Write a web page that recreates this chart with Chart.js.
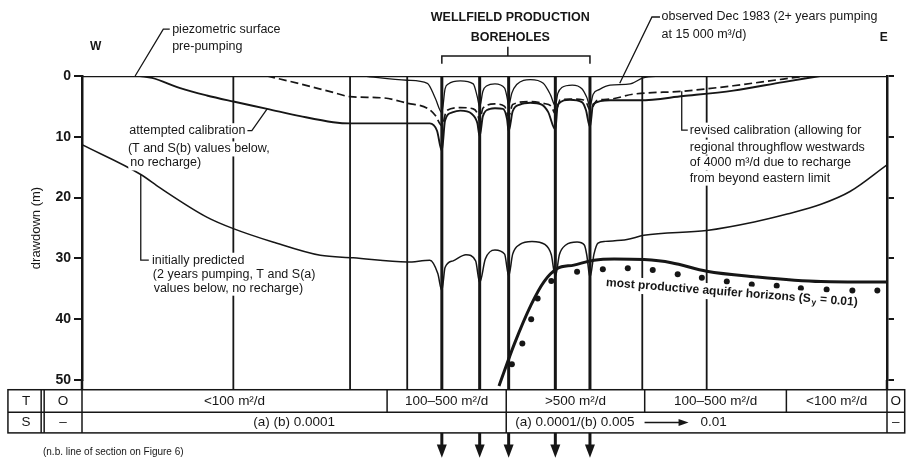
<!DOCTYPE html>
<html>
<head>
<meta charset="utf-8">
<title>Wellfield drawdown section W-E</title>
<script src="https://cdn.jsdelivr.net/npm/chart.js@4.4.1/dist/chart.umd.min.js"></script>
<style>
  html, body { margin: 0; padding: 0; background: #fff; }
  canvas { display: block; }
</style>
</head>
<body>
<canvas id="line-chart" width="914" height="462"></canvas>
<script>
// x = distance along the section, 0 (W) .. 100 (E), y = drawdown in m
var boreholes = [44.7, 49.4, 53.0, 58.8, 63.1];
var obsLines = [18.8, 33.3, 40.4, 69.6, 77.6];

var prePumping = [[0, 0], [100, 0]];

var observed = [[35.0,0],[40.4,0.7],[42.9,1.2],[43.9,3.7],[44.7,6.0],[45.1,2.1],[45.5,1.3],[47.0,0.8],[48.6,1.3],
  [49.1,3.4],[49.4,5.1],[49.8,2.5],[50.3,1.6],[51.3,1.3],[52.5,2.0],[52.8,3.5],[53.0,4.8],[53.4,2.8],[54.0,1.4],
  [55.7,0.6],[57.3,1.2],[58.2,3.1],[58.8,4.9],[59.1,2.9],[59.6,1.9],[60.9,1.5],[62.1,2.1],[62.7,3.5],[63.1,4.9],
  [63.5,3.0],[64.3,2.2],[65.6,1.5],[68.1,1.3],[69.7,0.3],[72.0,0]];

var revised = [[23.0,0],[27.1,1.3],[31.2,2.7],[33.3,3.4],[37.4,3.6],[40.5,4.5],[42.9,5.3],[43.9,6.5],[44.7,8.2],
  [45.3,5.7],[47.0,5.2],[48.6,5.4],[49.1,6.1],[49.4,7.4],[49.8,5.3],[51.3,4.6],[52.5,5.0],[53.0,6.6],[53.5,4.7],
  [55.7,4.2],[57.3,4.5],[58.3,5.0],[58.8,6.2],[59.4,3.9],[61.0,3.8],[62.2,3.9],[62.7,4.5],[63.1,5.6],[64.0,4.0],
  [65.6,3.8],[68.4,3.0],[74.7,2.5],[80.9,1.6],[87.1,0.5],[90.1,0]];

var attempted = [[7.2,0],[8.7,0.3],[12.2,2.0],[15.5,3.2],[18.8,4.2],[23.0,5.4],[27.1,6.6],[31.2,7.6],[33.3,7.8],
  [40.4,7.8],[43.2,7.8],[44.1,9.0],[44.7,12.3],[45.1,7.3],[46.0,6.0],[47.0,5.7],[48.4,6.2],[49.1,7.7],[49.4,9.9],
  [49.8,6.6],[50.7,5.4],[51.3,5.3],[52.3,5.4],[52.8,7.1],[53.0,9.1],[53.5,5.8],[54.4,4.7],[55.7,4.4],[57.1,4.7],
  [57.9,5.9],[58.8,8.8],[59.1,4.7],[60.6,3.9],[62.1,4.3],[62.6,5.6],[63.1,8.4],[63.5,4.6],[65.6,4.0],[69.3,4.0],
  [74.7,3.3],[80.9,2.4],[87.1,1.0],[91.7,0]];

var initial = [[0,11.3],[7.3,16.2],[9.7,18.4],[15.5,23.2],[18.8,25.1],[23.7,27.3],[29.6,29.5],[33.7,29.9],
  [40.4,30.6],[43.2,30.3],[44.2,32.5],[44.7,35.3],[45.1,31.5],[46.1,30.4],[47.7,29.4],[48.9,30.4],[49.4,34.0],
  [50.1,30.1],[51.3,28.6],[52.5,29.3],[53.0,32.9],[53.5,29.3],[54.4,27.7],[55.9,27.2],[57.5,27.7],[58.3,29.4],
  [58.8,33.0],[59.3,29.4],[60.1,27.8],[61.5,27.3],[62.4,27.8],[62.7,29.4],[63.1,33.1],[63.6,29.3],[64.1,27.5],
  [65.0,27.2],[67.7,26.9],[69.8,26.2],[77.6,25.4],[83.5,24.0],[87.6,22.7],[91.8,21.1],[95.4,19.0],[100,14.6]];

// top of most productive aquifer horizons
var productive = [[51.8,51.0],[53.7,44.1],[55.8,37.6],[57.4,33.8],[59.0,31.7],[61.1,31.1],[63.6,30.3],[66.1,30.1],
  [69.8,30.2],[73.2,30.7],[77.6,32.1],[83.5,33.0],[91.8,33.8],[100,33.9]];

var productiveDots = [[53.4,47.4],[54.7,44.0],[55.8,40.0],[56.6,36.6],[58.3,33.7],[61.5,32.2],[64.7,31.8],[67.8,31.6],
  [70.9,31.9],[74.0,32.6],[77.0,33.2],[80.1,33.8],[83.2,34.3],[86.3,34.5],[89.3,34.9],[92.5,35.1],[95.7,35.3],[98.8,35.3]];

// T / S table under the section
var tableTop = 51.6, tableMid = 55.3, tableBottom = 58.7;
var tEdges = [-9.2, -4.7, 0, 37.9, 52.7, 69.9, 87.5, 100, 102.2];
var tLabels = ['T', 'O', '<100 m²/d', '100–500 m²/d', '>500 m²/d', '100–500 m²/d', '<100 m²/d', 'O'];
var sEdges = [-9.2, -4.7, 0, 52.7, 100, 102.2];
var sLabels = ['S', '–', '(a) (b) 0.0001', '(a) 0.0001/(b) 0.005|0.01', '–'];

var ink = '#161616';
var fam = "'Liberation Sans', Arial, sans-serif";
var labelFont = '12.5px ' + fam;

function toXY(arr) {
  return arr.map(function (p) { return { x: p[0], y: p[1] }; });
}

function seg(ctx, x1, y1, x2, y2) {
  ctx.beginPath(); ctx.moveTo(x1, y1); ctx.lineTo(x2, y2); ctx.stroke();
}

function txt(ctx, s, x, y, align, clear) {
  ctx.textAlign = align || 'left';
  ctx.textBaseline = 'middle';
  if (clear) {
    var w = ctx.measureText(s).width;
    var x0 = align === 'center' ? x - w / 2 : (align === 'right' ? x - w : x);
    ctx.save(); ctx.fillStyle = '#fff'; ctx.fillRect(x0 - 2, y - 7.5, w + 4, 15); ctx.restore();
  }
  ctx.fillText(s, x, y);
}

var sectionPlugin = {
  id: 'section',
  afterDatasetsDraw: function (chart) {
    var ctx = chart.ctx, xs = chart.scales.x, ys = chart.scales.y;
    var X = function (v) { return xs.getPixelForValue(v); };
    var Y = function (v) { return ys.getPixelForValue(v); };
    ctx.save();
    ctx.strokeStyle = ink; ctx.fillStyle = ink;

    // observation lines and axis edges down to the table
    ctx.lineWidth = 1.8;
    obsLines.forEach(function (x) { seg(ctx, X(x), Y(0), X(x), Y(tableTop)); });
    ctx.lineWidth = 2.5;
    seg(ctx, X(0), Y(50), X(0), Y(tableTop));
    seg(ctx, X(100), Y(50), X(100), Y(tableTop));

    // production boreholes
    ctx.lineWidth = 3;
    boreholes.forEach(function (x) {
      seg(ctx, X(x), Y(0), X(x), Y(tableTop));
      seg(ctx, X(x), Y(tableBottom), X(x), Y(61));
      ctx.beginPath();
      ctx.moveTo(X(x) - 5, Y(60.6)); ctx.lineTo(X(x) + 5, Y(60.6)); ctx.lineTo(X(x), Y(62.8));
      ctx.closePath(); ctx.fill();
    });

    // bracket over the wellfield
    ctx.lineWidth = 1.5;
    var b0 = X(boreholes[0]), b1 = X(boreholes[boreholes.length - 1]), bm = X(52.9);
    ctx.beginPath();
    ctx.moveTo(b0, Y(-2.0)); ctx.lineTo(b0, Y(-3.3)); ctx.lineTo(b1, Y(-3.3)); ctx.lineTo(b1, Y(-2.0));
    ctx.stroke();
    seg(ctx, bm, Y(-3.3), bm, Y(-4.8));

    ctx.font = 'bold 12.5px ' + fam;
    txt(ctx, 'WELLFIELD PRODUCTION', X(53.2), Y(-9.6), 'center');
    txt(ctx, 'BOREHOLES', X(53.2), Y(-6.4), 'center');
    ctx.font = 'bold 12px ' + fam;
    txt(ctx, 'W', X(1.7), Y(-4.8), 'center');
    txt(ctx, 'E', X(99.6), Y(-6.25), 'center');

    // leaders
    ctx.lineWidth = 1.3;
    ctx.beginPath(); ctx.moveTo(X(6.6), Y(0)); ctx.lineTo(X(10.1), Y(-7.7)); ctx.lineTo(X(10.9), Y(-7.7)); ctx.stroke();
    ctx.beginPath(); ctx.moveTo(X(66.8), Y(1.2)); ctx.lineTo(X(70.8), Y(-9.7)); ctx.lineTo(X(71.8), Y(-9.7)); ctx.stroke();
    ctx.beginPath(); ctx.moveTo(X(23.0), Y(5.4)); ctx.lineTo(X(21.1), Y(9.0)); ctx.lineTo(X(20.5), Y(9.0)); ctx.stroke();
    ctx.beginPath(); ctx.moveTo(X(7.3), Y(16.2)); ctx.lineTo(X(7.3), Y(30.3)); ctx.lineTo(X(8.3), Y(30.3)); ctx.stroke();
    ctx.beginPath(); ctx.moveTo(X(74.5), Y(2.5)); ctx.lineTo(X(74.5), Y(8.9)); ctx.lineTo(X(75.3), Y(8.9)); ctx.stroke();

    // annotation texts
    ctx.font = labelFont;
    txt(ctx, 'piezometric surface', X(11.2), Y(-7.7));
    txt(ctx, 'pre-pumping', X(11.2), Y(-4.9));
    txt(ctx, 'observed Dec 1983 (2+ years pumping', X(72.0), Y(-9.7));
    txt(ctx, 'at 15 000 m³/d)', X(72.0), Y(-6.9));
    txt(ctx, 'attempted calibration', X(20.3), Y(9.0), 'right', true);
    txt(ctx, '(T and S(b) values below,', X(5.7), Y(12.0), 'left', true);
    txt(ctx, 'no recharge)', X(6.0), Y(14.3), 'left', true);
    txt(ctx, 'initially predicted', X(8.7), Y(30.3), 'left', true);
    txt(ctx, '(2 years pumping, T and S(a)', X(8.8), Y(32.6), 'left', true);
    txt(ctx, 'values below, no recharge)', X(8.9), Y(34.9), 'left', true);
    txt(ctx, 'revised calibration (allowing for', X(75.5), Y(8.9), 'left', true);
    txt(ctx, 'regional throughflow westwards', X(75.5), Y(11.7), 'left', true);
    txt(ctx, 'of 4000 m³/d due to recharge', X(75.5), Y(14.3), 'left', true);
    txt(ctx, 'from beyond eastern limit', X(75.5), Y(16.8), 'left', true);

    // tilted label for the aquifer horizons
    ctx.save();
    ctx.translate(X(65.1), Y(34.0));
    ctx.rotate(4.5 * Math.PI / 180);
    ctx.font = 'bold 12px ' + fam;
    var p1 = 'most productive aquifer horizons (S', p3 = ' = 0.01)';
    var w1 = ctx.measureText(p1).width, w3 = ctx.measureText(p3).width;
    ctx.fillStyle = '#fff'; ctx.fillRect(-2, -7.5, w1 + w3 + 12, 16); ctx.fillStyle = ink;
    txt(ctx, p1, 0, 0);
    ctx.font = 'bold 8.5px ' + fam;
    txt(ctx, 'y', w1 + 1, 3.5);
    ctx.font = 'bold 12px ' + fam;
    txt(ctx, p3, w1 + 6, 0);
    ctx.restore();

    ctx.font = '10px ' + fam;
    txt(ctx, '(n.b. line of section on Figure 6)', X(-4.85), Y(61.9));

    // table
    ctx.lineWidth = 1.5;
    var L = X(tEdges[0]), R = X(tEdges[tEdges.length - 1]);
    ctx.strokeRect(L, Y(tableTop), R - L, Y(tableBottom) - Y(tableTop));
    seg(ctx, L, Y(tableMid), R, Y(tableMid));
    seg(ctx, X(tEdges[1]) - 3, Y(tableTop), X(tEdges[1]) - 3, Y(tableBottom));
    ctx.font = '13.5px ' + fam;
    var ty = (Y(tableTop) + Y(tableMid)) / 2, sy = (Y(tableMid) + Y(tableBottom)) / 2;
    for (var i = 0; i < tLabels.length; i++) {
      if (i > 0) seg(ctx, X(tEdges[i]), Y(tableTop), X(tEdges[i]), Y(tableMid));
      txt(ctx, tLabels[i], (X(tEdges[i]) + X(tEdges[i + 1])) / 2, ty, 'center');
    }
    for (var j = 0; j < sLabels.length; j++) {
      if (j > 0) seg(ctx, X(sEdges[j]), Y(tableMid), X(sEdges[j]), Y(tableBottom));
      var s = sLabels[j];
      if (s.indexOf('|') > 0) {
        // "(a) 0.0001/(b) 0.005 --> 0.01"
        var parts = s.split('|');
        var sx = X(sEdges[j]) + 9;
        txt(ctx, parts[0], sx, sy);
        var ax = sx + ctx.measureText(parts[0]).width + 10;
        seg(ctx, ax, sy, ax + 36, sy);
        ctx.beginPath(); ctx.moveTo(ax + 44, sy); ctx.lineTo(ax + 34, sy - 3.5); ctx.lineTo(ax + 34, sy + 3.5);
        ctx.closePath(); ctx.fill();
        txt(ctx, parts[1], ax + 56, sy);
      } else {
        txt(ctx, s, (X(sEdges[j]) + X(sEdges[j + 1])) / 2, sy, 'center');
      }
    }
    ctx.restore();
  }
};

var lineBase = { pointRadius: 0, fill: false, borderColor: ink, cubicInterpolationMode: 'monotone' };

new Chart(document.getElementById('line-chart'), {
  type: 'line',
  data: {
    datasets: [
      Object.assign({ label: 'piezometric surface pre-pumping', data: toXY(prePumping), borderWidth: 2.5 }, lineBase),
      Object.assign({ label: 'observed Dec 1983', data: toXY(observed), borderWidth: 1.3 }, lineBase),
      Object.assign({ label: 'revised calibration', data: toXY(revised), borderWidth: 1.7, borderDash: [8, 4] }, lineBase),
      Object.assign({ label: 'attempted calibration', data: toXY(attempted), borderWidth: 1.9 }, lineBase),
      Object.assign({ label: 'initially predicted', data: toXY(initial), borderWidth: 1.5 }, lineBase),
      Object.assign({ label: 'most productive aquifer horizons', data: toXY(productive), borderWidth: 3, clip: false }, lineBase),
      { label: 'most productive aquifer horizons (Sy = 0.01)', data: toXY(productiveDots), showLine: false,
        pointRadius: 3, pointBackgroundColor: ink, pointBorderColor: ink, pointBorderWidth: 0 }
    ]
  },
  options: {
    responsive: false,
    animation: false,
    devicePixelRatio: 1,
    layout: { padding: { top: 76, bottom: 82, left: 0, right: 0 } },
    plugins: { legend: { display: false }, tooltip: { enabled: false } },
    scales: {
      x: { type: 'linear', min: 0, max: 100, display: false },
      y: {
        position: 'left', reverse: true, min: 0, max: 50,
        afterFit: function (s) { s.width = 82; },
        ticks: { stepSize: 10, color: ink, padding: 3, font: { family: fam, size: 14, weight: 'bold' } },
        grid: { drawOnChartArea: false, drawTicks: true, tickLength: 8, color: ink, lineWidth: 2 },
        border: { display: true, color: ink, width: 2.5 },
        title: { display: true, text: 'drawdown (m)', color: ink, padding: { top: 29, bottom: 0 },
                 font: { family: fam, size: 13 } }
      },
      y2: {
        position: 'right', reverse: true, min: 0, max: 50,
        afterFit: function (s) { s.width = 27; },
        ticks: { stepSize: 10, display: false },
        grid: { drawOnChartArea: false, drawTicks: true, tickLength: 7, color: ink, lineWidth: 2 },
        border: { display: true, color: ink, width: 2.5 }
      }
    }
  },
  plugins: [sectionPlugin]
});
</script>
</body>
</html>
